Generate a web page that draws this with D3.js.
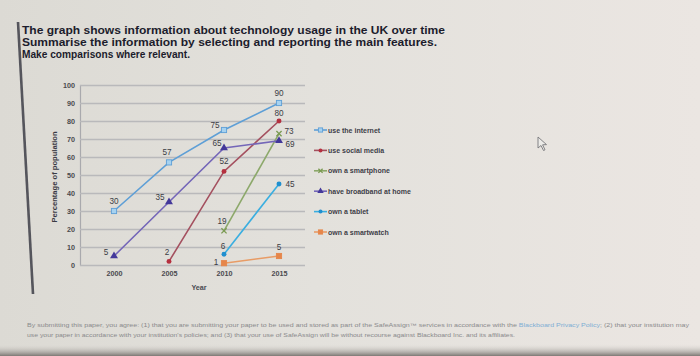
<!DOCTYPE html>
<html><head><meta charset="utf-8">
<script src="https://cdn.jsdelivr.net/npm/d3@7"></script>
<style>
html,body{margin:0;padding:0;background:#e2e0db;}
svg{display:block;}
</style></head>
<body>
<svg id="c" width="700" height="356"></svg>
<script>
// ---- data ----
const years = ["2000", "2005", "2010", "2015"];
const seriesNames = ["use the internet", "use social media", "own a smartphone", "have broadband at home", "own a tablet", "own a smartwatch"];
const internet   = [30, 57, 75, 90];
const socialMedia = [null, 2, 52, 80];
const smartphone = [null, null, 19, 73];
const broadband  = [5, 35, 65, 69];
const tablet     = [null, null, 6, 45];
const smartwatch = [null, null, 1, 5];
const yTicks = [0, 10, 20, 30, 40, 50, 60, 70, 80, 90, 100];
const titleLines = [
  "The graph shows information about technology usage in the UK over time",
  "Summarise the information by selecting and reporting the main features.",
  "Make comparisons where relevant."
];
const yTitle = "Percentage of population";
const xTitle = "Year";

// ---- styles (not data) ----
const styles = [
  {line:"#5e9fd6", fill:"#a6d2f0", stroke:"#5e9fd6", shape:"square"},
  {line:"#a4505f", fill:"#b5303f", stroke:"#a02838", shape:"circle"},
  {line:"#8ca86a", fill:"none", stroke:"#7a9a52", shape:"cross"},
  {line:"#7466b8", fill:"#43389a", stroke:"#43389a", shape:"triangle"},
  {line:"#3aaee0", fill:"#1f8fcf", stroke:"#1f8fcf", shape:"circle"},
  {line:"#e89c66", fill:"#e6864a", stroke:"#e6864a", shape:"square"}
];
// label placement per series per point: [dx, dy]
const labelOffsets = [
  [[0,-10],[-2,-10],[-9,-5],[0,-10]],
  [null,[-2,-9],[0,-10],[0,-8]],
  [null,null,[-2,-9],[10,-2]],
  [[-8,-4],[-9,-5],[-7,-5],[11,4]],
  [null,null,[-1,-8],[11,0]],
  [null,null,[-8,-1],[0,-9]]
];

const allSeries = [internet, socialMedia, smartphone, broadband, tablet, smartwatch];

const svg = d3.select("#c");
const W = 700, H = 356;

// background
const defs = svg.append("defs");
const bg = defs.append("linearGradient").attr("id","bg").attr("x1","0").attr("x2","1").attr("y1","0").attr("y2","0");
bg.append("stop").attr("offset","0").attr("stop-color","#dcdad4");
bg.append("stop").attr("offset","0.45").attr("stop-color","#e3e1dc");
bg.append("stop").attr("offset","1").attr("stop-color","#ebe6e2");
svg.append("rect").attr("width",W).attr("height",H).attr("fill","url(#bg)");
const bot = defs.append("linearGradient").attr("id","bot").attr("x1","0").attr("x2","0").attr("y1","0").attr("y2","1");
bot.append("stop").attr("offset","0").attr("stop-color","#e0ddd8").attr("stop-opacity",0);
bot.append("stop").attr("offset","1").attr("stop-color","#7d7874");
svg.append("rect").attr("x",0).attr("y",344).attr("width",W).attr("height",12).attr("fill","url(#bot)");

// left vertical bar
svg.append("line").attr("x1",18).attr("y1",22).attr("x2",33).attr("y2",294)
  .attr("stroke","#55555c").attr("stroke-width",2.6);

// title
const tLens = [423, 415, 168];
svg.append("g").selectAll("text").data(titleLines).join("text")
  .attr("x",22).attr("y",(d,i)=>34+i*12)
  .attr("font-family","Liberation Sans, Arial, sans-serif")
  .attr("font-size",11.3).attr("font-weight","bold").attr("fill","#1c1c2c")
  .attr("textLength",(d,i)=>tLens[i]).attr("lengthAdjust","spacingAndGlyphs")
  .text(d=>d);

// scales
const x = d3.scalePoint().domain(years).range([114, 279]);
const y = d3.scaleLinear().domain([0,100]).range([265, 85]);
const plotLeft = 80, plotRight = 305;

// gridlines + y axis
const yAxis = d3.axisLeft(y).tickValues(yTicks).tickSize(-(plotRight-plotLeft)).tickPadding(5);
const gy = svg.append("g").attr("transform",`translate(${plotLeft},0)`).call(yAxis);
gy.select(".domain").attr("stroke","#a9a9ad").attr("stroke-width",1.2);
gy.selectAll(".tick line").attr("stroke","#b9b9bb").attr("stroke-width",1.3);
gy.selectAll(".tick text").attr("font-family","Liberation Sans, Arial, sans-serif")
  .attr("font-size",7.2).attr("fill","#4a4a4e").attr("font-weight","bold");

// x axis labels
const xAxis = d3.axisBottom(x).tickSize(0).tickPadding(6);
const gx = svg.append("g").attr("transform",`translate(0,${y(0)})`).call(xAxis);
gx.select(".domain").remove();
gx.selectAll(".tick text").attr("font-family","Liberation Sans, Arial, sans-serif")
  .attr("font-size",7.2).attr("fill","#4a4a4e").attr("font-weight","bold");

// axis titles
svg.append("text").attr("transform","translate(57,177) rotate(-90)")
  .attr("text-anchor","middle").attr("font-family","Liberation Sans, Arial, sans-serif")
  .attr("font-size",7.6).attr("font-weight","bold").attr("fill","#3a3a44").text(yTitle);
svg.append("text").attr("x",199).attr("y",290).attr("text-anchor","middle")
  .attr("font-family","Liberation Sans, Arial, sans-serif")
  .attr("font-size",7.2).attr("font-weight","bold").attr("fill","#4a4a52").text(xTitle);

// markers
function drawMarker(g, s, cx, cy, size){
  const sz = size || 2.6;
  if (s.shape==="square"){
    g.append("rect").attr("x",cx-sz).attr("y",cy-sz).attr("width",sz*2).attr("height",sz*2)
      .attr("fill",s.fill).attr("stroke",s.stroke).attr("stroke-width",0.9);
  } else if (s.shape==="circle"){
    g.append("circle").attr("cx",cx).attr("cy",cy).attr("r",sz*0.95).attr("fill",s.fill);
  } else if (s.shape==="triangle"){
    g.append("path").attr("d",d3.symbol(d3.symbolTriangle, sz*sz*4)()).attr("transform",`translate(${cx},${cy})`)
      .attr("fill",s.fill);
  } else if (s.shape==="cross"){
    g.append("path").attr("d",`M${cx-sz},${cy-sz}L${cx+sz},${cy+sz}M${cx-sz},${cy+sz}L${cx+sz},${cy-sz}`)
      .attr("stroke",s.stroke).attr("stroke-width",1.3);
  }
}

const line = d3.line().defined(d=>d.v!=null).x(d=>x(d.year)).y(d=>y(d.v));
const plot = svg.append("g");
allSeries.forEach((vals, si)=>{
  const pts = years.map((yr,i)=>({year:yr, v:vals[i]}));
  const s = styles[si];
  plot.append("path").datum(pts).attr("d",line).attr("fill","none")
    .attr("stroke",s.line).attr("stroke-width",1.6);
});
allSeries.forEach((vals, si)=>{
  const s = styles[si];
  const g = plot.append("g");
  years.forEach((yr,i)=>{
    if (vals[i]==null) return;
    drawMarker(g, s, x(yr), y(vals[i]));
    const off = labelOffsets[si][i] || [0,-10];
    g.append("text").attr("x",x(yr)+off[0]).attr("y",y(vals[i])+off[1])
      .attr("text-anchor","middle").attr("dominant-baseline","central")
      .attr("font-family","Liberation Sans, Arial, sans-serif").attr("font-size",8.2)
      .attr("fill","#3c3c44").text(vals[i]);
  });
});

// legend
const ly = d3.scalePoint().domain(seriesNames).range([130, 232]);
const lg = svg.append("g");
seriesNames.forEach((name, si)=>{
  const s = styles[si];
  const yy = ly(name);
  lg.append("line").attr("x1",314).attr("x2",327).attr("y1",yy).attr("y2",yy)
    .attr("stroke",s.line).attr("stroke-width",1.6);
  drawMarker(lg, s, 320.5, yy, 2.1);
  lg.append("text").attr("x",328).attr("y",yy).attr("dominant-baseline","central")
    .attr("font-family","Liberation Sans, Arial, sans-serif").attr("font-size",7)
    .attr("font-weight","bold").attr("fill","#3e3e48").text(name);
});

// mouse cursor
svg.append("path").attr("d","M538,137 L538,148 L541,145.5 L543.5,150.5 L545,149.8 L542.6,144.8 L546.5,144.6 Z")
  .attr("fill","#ecebe8").attr("stroke","#77777a").attr("stroke-width",0.9);

// footer
const f1 = svg.append("text").attr("x",27).attr("y",327)
  .attr("font-family","Liberation Sans, Arial, sans-serif").attr("font-size",5)
  .attr("fill","#8a8a8c").attr("textLength",662).attr("lengthAdjust","spacingAndGlyphs");
f1.append("tspan").text("By submitting this paper, you agree: (1) that you are submitting your paper to be used and stored as part of the SafeAssign\u2122 services in accordance with the ");
f1.append("tspan").attr("fill","#7eaed4").text("Blackboard Privacy Policy");
f1.append("tspan").text("; (2) that your institution may");
svg.append("text").attr("x",27).attr("y",337)
  .attr("font-family","Liberation Sans, Arial, sans-serif").attr("font-size",5)
  .attr("fill","#8a8a8c").attr("textLength",488).attr("lengthAdjust","spacingAndGlyphs")
  .text("use your paper in accordance with your institution's policies; and (3) that your use of SafeAssign will be without recourse against Blackboard Inc. and its affiliates.");
</script>
</body></html>
